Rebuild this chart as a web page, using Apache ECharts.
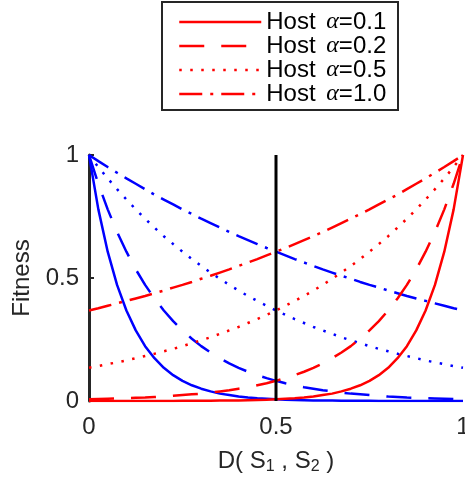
<!DOCTYPE html>
<html>
<head>
<meta charset="utf-8">
<script src="https://cdn.jsdelivr.net/npm/echarts@6/dist/echarts.min.js"></script>
<style>
  html, body { margin: 0; padding: 0; background: #fff; }
  #chart { width: 465px; height: 483px; }
</style>
</head>
<body>
<div id="chart"></div>
<script>
// Distance D(S1, S2) sampled along the x axis
const distance = [0,0.025,0.05,0.075,0.1,0.125,0.15,0.175,0.2,0.225,0.25,0.275,0.3,0.325,0.35,0.375,0.4,0.425,0.45,0.475,0.5,0.525,0.55,0.575,0.6,0.625,0.65,0.675,0.7,0.725,0.75,0.775,0.8,0.825,0.85,0.875,0.9,0.925,0.95,0.975,1];

// Host fitness (red) for each alpha
const hostA01 = [0,0,0,0,0,0,0,0,0,0,0.001,0.001,0.001,0.001,0.002,0.002,0.002,0.003,0.004,0.005,0.007,0.009,0.011,0.014,0.018,0.024,0.030,0.039,0.050,0.064,0.082,0.105,0.135,0.174,0.223,0.287,0.368,0.472,0.607,0.779,1];
const hostA02 = [0.007,0.008,0.009,0.010,0.011,0.013,0.014,0.016,0.018,0.021,0.024,0.027,0.030,0.034,0.039,0.044,0.050,0.056,0.064,0.072,0.082,0.093,0.105,0.119,0.135,0.153,0.174,0.197,0.223,0.253,0.287,0.325,0.368,0.417,0.472,0.535,0.607,0.687,0.779,0.883,1];
const hostA05 = [0.135,0.142,0.150,0.157,0.165,0.174,0.183,0.192,0.202,0.212,0.223,0.235,0.247,0.259,0.273,0.287,0.301,0.317,0.333,0.350,0.368,0.387,0.407,0.427,0.449,0.472,0.497,0.522,0.549,0.577,0.607,0.638,0.670,0.705,0.741,0.779,0.819,0.861,0.905,0.951,1];
const hostA10 = [0.368,0.377,0.387,0.397,0.407,0.417,0.427,0.438,0.449,0.461,0.472,0.484,0.497,0.509,0.522,0.535,0.549,0.563,0.577,0.592,0.607,0.622,0.638,0.654,0.670,0.687,0.705,0.723,0.741,0.760,0.779,0.799,0.819,0.839,0.861,0.883,0.905,0.928,0.951,0.975,1];

// Parasite fitness (blue) for each alpha
const paraA01 = [1,0.779,0.607,0.472,0.368,0.287,0.223,0.174,0.135,0.105,0.082,0.064,0.050,0.039,0.030,0.024,0.018,0.014,0.011,0.009,0.007,0.005,0.004,0.003,0.002,0.002,0.002,0.001,0.001,0.001,0.001,0,0,0,0,0,0,0,0,0,0];
const paraA02 = [1,0.883,0.779,0.687,0.607,0.535,0.472,0.417,0.368,0.325,0.287,0.253,0.223,0.197,0.174,0.153,0.135,0.119,0.105,0.093,0.082,0.072,0.064,0.056,0.050,0.044,0.039,0.034,0.030,0.027,0.024,0.021,0.018,0.016,0.014,0.013,0.011,0.010,0.009,0.008,0.007];
const paraA05 = [1,0.951,0.905,0.861,0.819,0.779,0.741,0.705,0.670,0.638,0.607,0.577,0.549,0.522,0.497,0.472,0.449,0.427,0.407,0.387,0.368,0.350,0.333,0.317,0.301,0.287,0.273,0.259,0.247,0.235,0.223,0.212,0.202,0.192,0.183,0.174,0.165,0.157,0.150,0.142,0.135];
const paraA10 = [1,0.975,0.951,0.928,0.905,0.883,0.861,0.839,0.819,0.799,0.779,0.760,0.741,0.723,0.705,0.687,0.670,0.654,0.638,0.622,0.607,0.592,0.577,0.563,0.549,0.535,0.522,0.509,0.497,0.484,0.472,0.461,0.449,0.438,0.427,0.417,0.407,0.397,0.387,0.377,0.368];

const alphaLabels = ['0.1', '0.2', '0.5', '1.0'];
const xTicks = [0, 0.5, 1];
const yTicks = [0, 0.5, 1];
const markerX = [0.5, 0.5];
const markerY = [0, 1];

const hostSeries = [hostA01, hostA02, hostA05, hostA10];
const paraSeries = [paraA01, paraA02, paraA05, paraA10];

// Line patterns: solid, dashed, dotted, dash-dot
const dashes = ['solid', [25, 17], [2.5, 8.5], [23, 8, 3, 8]];

const FONT = '"Liberation Sans", Arial, Helvetica, sans-serif';
const AXIS = '#262626';

function pairs(ys) { return distance.map((x, i) => [x, ys[i]]); }

const hostNames = alphaLabels.map(a => 'Host α=' + a);

const series = [];
paraSeries.forEach((ys, i) => {
  series.push({
    name: 'Parasite α=' + alphaLabels[i],
    type: 'line', data: pairs(ys), showSymbol: false, symbol: 'none',
    silent: true,
    lineStyle: { color: '#0000ff', width: 2.5, type: dashes[i], cap: 'butt' },
    itemStyle: { color: '#0000ff' },
    z: 3
  });
});
hostSeries.forEach((ys, i) => {
  series.push({
    name: hostNames[i],
    type: 'line', data: pairs(ys), showSymbol: false, symbol: 'none',
    silent: true,
    lineStyle: { color: '#ff0000', width: 2.5, type: dashes[i], cap: 'butt' },
    itemStyle: { color: '#ff0000' },
    z: 3
  });
});
// Vertical reference line at D = 0.5
series.push({
  name: 'midline', type: 'line', symbol: 'none', silent: true,
  data: markerX.map((x, i) => [x, markerY[i]]),
  lineStyle: { color: '#000', width: 3, cap: 'butt' },
  z: 4
});

const chart = echarts.init(document.getElementById('chart'), null, { renderer: 'canvas' });
chart.setOption({
  animation: false,
  backgroundColor: '#fff',
  grid: { left: 89, right: 2, top: 155, bottom: 82, containLabel: false, outerBoundsMode: 'none' },
  // Frame around the legend
  graphic: [{
    type: 'rect', left: 161, top: 1, z: 0,
    shape: { width: 236, height: 108 },
    style: { fill: '#fff', stroke: AXIS, lineWidth: 2 }
  }],
  legend: {
    data: hostNames,
    orient: 'vertical',
    left: 161, top: 2,
    padding: [8, 16, 4, 17],
    itemGap: 0,
    itemWidth: 82, itemHeight: 14,
    borderWidth: 0,
    z: 5,
    selectedMode: false,
    itemStyle: { opacity: 0 },
    lineStyle: { width: 2.5, opacity: 1 },
    formatter: name => {
      const a = alphaLabels[hostNames.indexOf(name)];
      return '{t|Host }{a|α}{t|=' + a + '}';
    },
    textStyle: {
      color: '#000', fontFamily: FONT, fontSize: 24,
      rich: {
        t: { fontFamily: FONT, fontSize: 24, lineHeight: 24, color: '#000' },
        a: { fontFamily: '"Liberation Serif", "Times New Roman", serif', fontStyle: 'italic', fontSize: 24, lineHeight: 24, color: '#000', padding: [0, 0, 0, 4] }
      }
    }
  },
  xAxis: {
    type: 'value', min: xTicks[0], max: xTicks[xTicks.length - 1], interval: xTicks[1] - xTicks[0],
    axisLine: { show: false },
    axisTick: { show: false },
    splitLine: { show: false },
    axisLabel: { fontSize: 24, fontFamily: FONT, color: AXIS, margin: 14 },
    name: '{n|D( S}{s|1}{n| , S}{s|2}{n| )}',
    nameLocation: 'middle', nameGap: 46,
    nameTextStyle: {
      fontFamily: FONT, fontSize: 24, color: AXIS,
      rich: {
        n: { fontFamily: FONT, fontSize: 24, lineHeight: 28, color: AXIS },
        s: { fontFamily: FONT, fontSize: 16, lineHeight: 16, color: AXIS, verticalAlign: 'bottom' }
      }
    }
  },
  yAxis: {
    type: 'value', min: yTicks[0], max: yTicks[yTicks.length - 1], interval: yTicks[1] - yTicks[0],
    axisLine: { show: true, lineStyle: { color: AXIS, width: 3 } },
    axisTick: { show: true, inside: true, length: 5, lineStyle: { color: AXIS, width: 2 } },
    splitLine: { show: false },
    axisLabel: { fontSize: 24, fontFamily: FONT, color: AXIS, margin: 10 },
    name: 'Fitness',
    nameLocation: 'middle', nameGap: 55,
    nameTextStyle: { fontFamily: FONT, fontSize: 24, color: AXIS }
  },
  series: series
});
</script>
</body>
</html>
